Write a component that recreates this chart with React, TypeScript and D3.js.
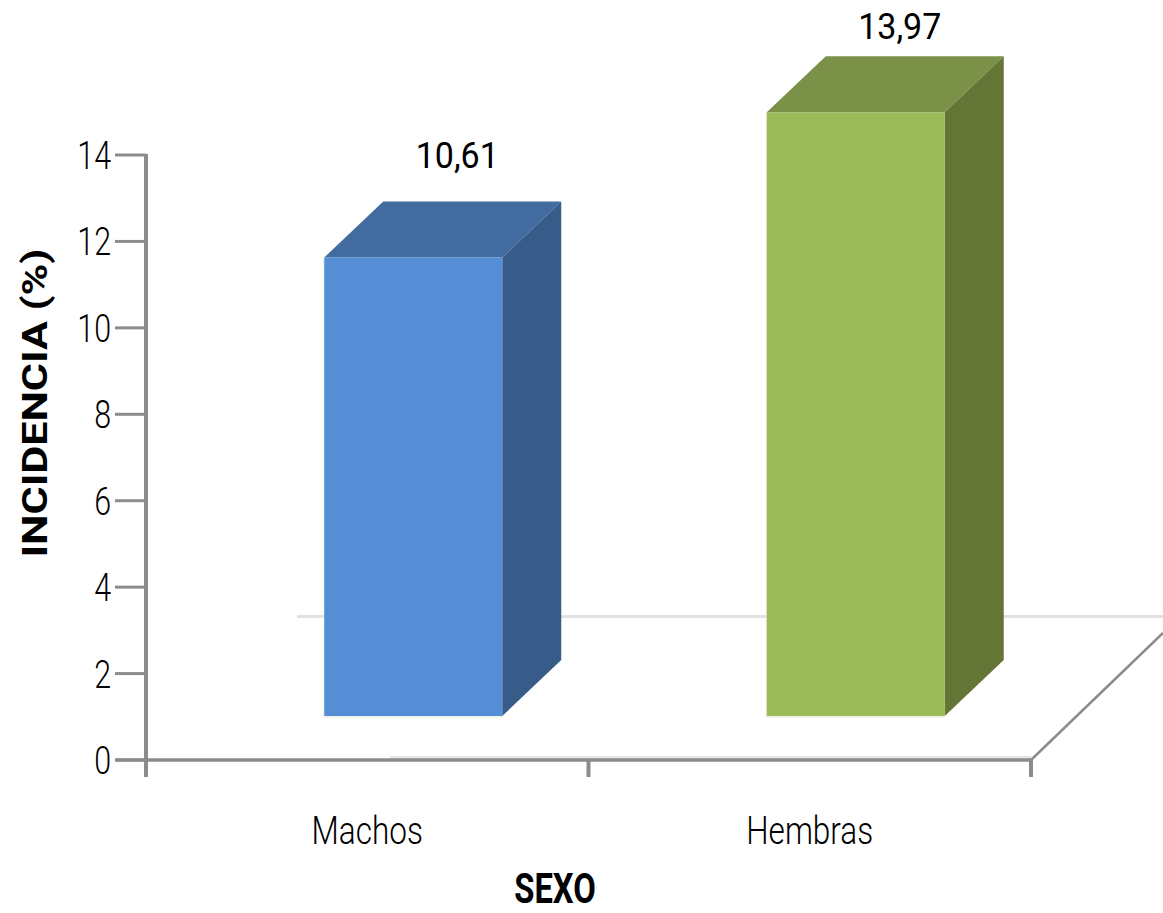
import React from "react";
import * as d3 from "d3";

const categories = ["Machos", "Hembras"];
const incidence = [10.61, 13.97];
const valueLabels = ["10,61", "13,97"];
const yTicks = [0, 2, 4, 6, 8, 10, 12, 14];
const frontColors = ["#558ed5", "#9bbb59"];
const topColors = ["#426ba0", "#7a9147"];
const sideColors = ["#375c8a", "#647636"];

const W = 1163;
const H = 913;
const FONT = "Roboto, 'DejaVu Sans', sans-serif";
const AXIS = "#8c8c8c";

// Oblique projection of the 3-D column depth.
const DEPTH_X = 59;
const DEPTH_Y = 56;
const FLOOR_RISE = 44;
const BAR_WIDTH = 178;
const BAR_SHIFT = 46;
const LABEL_GAP = [33, 17];

const y = d3.scaleLinear().domain([0, 14]).range([760, 155]);
const x = d3.scaleBand<string>().domain(categories).range([146, 1031]);

const poly = (pts: [number, number][]) => d3.line()(pts) + "Z";

// Condensed text: the installed faces are wider than the chart's lettering.
function Narrow(props: {
  x: number;
  y: number;
  sx: number;
  size: number;
  anchor: string;
  weight?: number;
  children: React.ReactNode;
}) {
  return (
    <text
      transform={`translate(${props.x},${props.y}) scale(${props.sx},1)`}
      textAnchor={props.anchor}
      fontFamily={FONT}
      fontSize={props.size}
      fontWeight={props.weight ?? 300}
      fill="#000"
    >
      {props.children}
    </text>
  );
}

export default function App() {
  const y0 = y(0);
  const floorY = y0 - FLOOR_RISE;
  const ticksX = [146, ...categories.map((c) => (x(c) as number) + x.bandwidth())];
  return (
    <svg
      width={W}
      height={H}
      viewBox={`0 0 ${W} ${H}`}
      style={{ position: "absolute", left: 0, top: 0, background: "#fff", display: "block" }}
    >
      {/* floor of the 3-D plot */}
      <line x1={297} x2={W} y1={616.5} y2={616.5} stroke="#e2e2e2" strokeWidth={3} />
      <line x1={390} x2={1031} y1={757.5} y2={757.5} stroke="#e6e6e6" strokeWidth={3} />
      <line x1={160} x2={292} y1={745} y2={622} stroke="#eeeeee" strokeWidth={1} strokeDasharray="2 16" />
      <line x1={1031} x2={W} y1={760} y2={633} stroke={AXIS} strokeWidth={2.5} />

      {/* axes */}
      <line x1={146} x2={146} y1={y(14) - 1} y2={777} stroke={AXIS} strokeWidth={4} />
      <line x1={115} x2={1033} y1={y0} y2={y0} stroke={AXIS} strokeWidth={3.5} />
      {yTicks.map((t) => (
        <g key={t}>
          <line x1={115} x2={146} y1={y(t)} y2={y(t)} stroke={AXIS} strokeWidth={3} />
          <Narrow x={111} y={y(t) + 14} sx={0.8} size={38} anchor="end">
            {t}
          </Narrow>
        </g>
      ))}
      {ticksX.map((tx, i) => (
        <line key={i} x1={tx} x2={tx} y1={y0} y2={777} stroke={AXIS} strokeWidth={4} />
      ))}

      {/* columns */}
      {categories.map((c, i) => {
        const left = (x(c) as number) + (x.bandwidth() - BAR_WIDTH) / 2 + BAR_SHIFT;
        const right = left + BAR_WIDTH;
        const h = y0 - y(incidence[i]);
        const top = floorY - h;
        return (
          <g key={c}>
            <rect x={left - 1} y={top} width={BAR_WIDTH + 1} height={h + 2} fill="#e4ecd8" opacity={0.6} />
            <path
              d={poly([
                [left, top],
                [left + DEPTH_X, top - DEPTH_Y],
                [right + DEPTH_X, top - DEPTH_Y],
                [right, top],
              ])}
              fill={topColors[i]}
            />
            <path
              d={poly([
                [right, top],
                [right + DEPTH_X, top - DEPTH_Y],
                [right + DEPTH_X, floorY - DEPTH_Y],
                [right, floorY],
              ])}
              fill={sideColors[i]}
            />
            <rect x={left} y={top} width={BAR_WIDTH} height={h} fill={frontColors[i]} />
            <Narrow x={left + BAR_WIDTH / 2 + 44} y={top - DEPTH_Y - LABEL_GAP[i]} sx={0.92} size={37} anchor="middle" weight={400}>
              {valueLabels[i]}
            </Narrow>
            <Narrow x={left + BAR_WIDTH / 2 - BAR_SHIFT} y={844} sx={0.83} size={38} anchor="middle">
              {c}
            </Narrow>
          </g>
        );
      })}

      {/* axis titles */}
      <text
        transform="translate(47,403) rotate(-90) scale(1.23,1)"
        textAnchor="middle"
        fontFamily={FONT}
        fontWeight={700}
        fontSize={35}
        fill="#000"
      >
        INCIDENCIA (%)
      </text>
      <Narrow x={555} y={903} sx={0.78} size={42} anchor="middle" weight={700}>
        SEXO
      </Narrow>
    </svg>
  );
}
